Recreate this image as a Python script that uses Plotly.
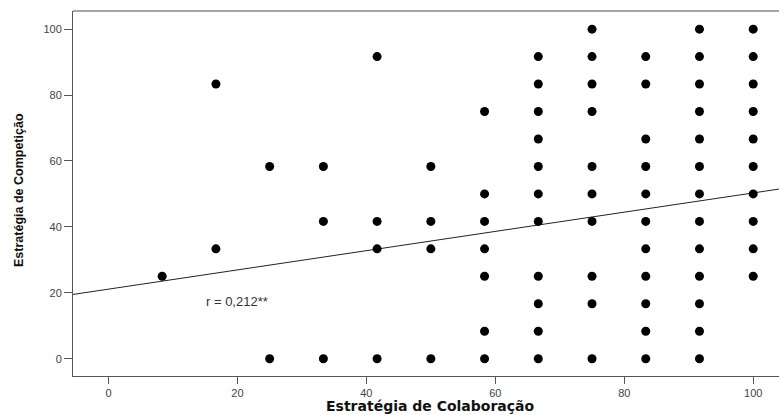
import plotly.graph_objects as go

# Data: x = Estratégia de Colaboração, y = Estratégia de Competição (steps of 100/12)
s = 100 / 12
col_x = [1, 2, 3, 4, 5, 6, 7, 8, 9, 10, 11, 12]
col_y = {
    1: [3],
    2: [10, 4],
    3: [7, 0],
    4: [7, 5, 0],
    5: [11, 5, 4, 0],
    6: [7, 5, 4, 0],
    7: [9, 6, 5, 4, 3, 1, 0],
    8: [11, 10, 9, 8, 7, 6, 5, 3, 2, 1, 0],
    9: [12, 11, 10, 9, 7, 6, 5, 3, 2, 0],
    10: [11, 10, 8, 7, 6, 5, 4, 3, 2, 1, 0],
    11: [12, 11, 10, 9, 8, 7, 6, 5, 4, 3, 2, 1, 0],
    12: [12, 11, 10, 9, 8, 7, 6, 5, 4, 3],
}
xs, ys = [], []
for c in col_x:
    for v in col_y[c]:
        xs.append(c * s)
        ys.append(v * s)

fit_intercept = 21.1
fit_slope = 0.292
x_range = [-5.5, 104.0]
y_range = [-5.25, 105.5]
tick_vals = [0, 20, 40, 60, 80, 100]
r_label = "r = 0,212**"

fig = go.Figure()
fig.add_trace(go.Scatter(
    x=[x_range[0], x_range[1]],
    y=[fit_intercept + fit_slope * x_range[0], fit_intercept + fit_slope * x_range[1]],
    mode="lines", line=dict(color="#222222", width=1), showlegend=False, hoverinfo="skip"))
fig.add_trace(go.Scatter(
    x=xs, y=ys, mode="markers",
    marker=dict(color="black", size=9, line=dict(width=0)),
    showlegend=False))

fig.add_annotation(x=14.8, y=17.3, xref="x", yref="y", text=r_label, showarrow=False,
                   xanchor="left", yanchor="middle",
                   font=dict(family="Liberation Sans, Arial", size=13, color="#333333"))
fig.add_annotation(x=430, y=406, xref="paper", yref="paper", text="Estratégia de Colaboração",
                   showarrow=False, xanchor="center", yanchor="middle",
                   font=dict(family="DejaVu Sans", size=14, color="#111111", weight="bold"))
fig.add_annotation(x=19, y=190, xref="paper", yref="paper", text="Estratégia de Competição",
                   showarrow=False, textangle=-90, xanchor="center", yanchor="middle",
                   font=dict(family="Liberation Sans, Arial", size=12.5,
                             color="#111111", weight="bold"))

W, H = 779, 415
ml, mt, mb, mr = 73, 11, 39, 0
# convert pixel positions of annotations into paper coords
for a in fig.layout.annotations:
    if a.xref == "paper":
        a.x = (a.x - ml) / (W - ml - mr)
        a.y = 1 - (a.y - mt) / (H - mt - mb)

# top frame line
fig.add_shape(type="line", xref="paper", yref="paper", x0=0, x1=1, y0=1, y1=1,
              line=dict(color="#888888", width=1.5))

fig.update_layout(
    width=W, height=H, margin=dict(l=ml, r=mr, t=mt, b=mb, pad=0),
    plot_bgcolor="white", paper_bgcolor="white",
    font=dict(family="Liberation Sans, Arial", size=11, color="#444444"),
)
fig.update_xaxes(range=x_range, tickvals=tick_vals, showgrid=False, zeroline=False,
                 showline=True, linecolor="#555555", linewidth=1, mirror=False,
                 ticks="outside", ticklen=7, tickcolor="#555555",
                 tickfont=dict(size=11, color="#444444"))
fig.update_yaxes(range=y_range, tickvals=tick_vals, showgrid=False, zeroline=False,
                 showline=True, linecolor="#555555", linewidth=1,
                 ticks="outside", ticklen=8, tickcolor="#555555",
                 tickfont=dict(size=11, color="#444444"))

fig.write_html("out.html")
